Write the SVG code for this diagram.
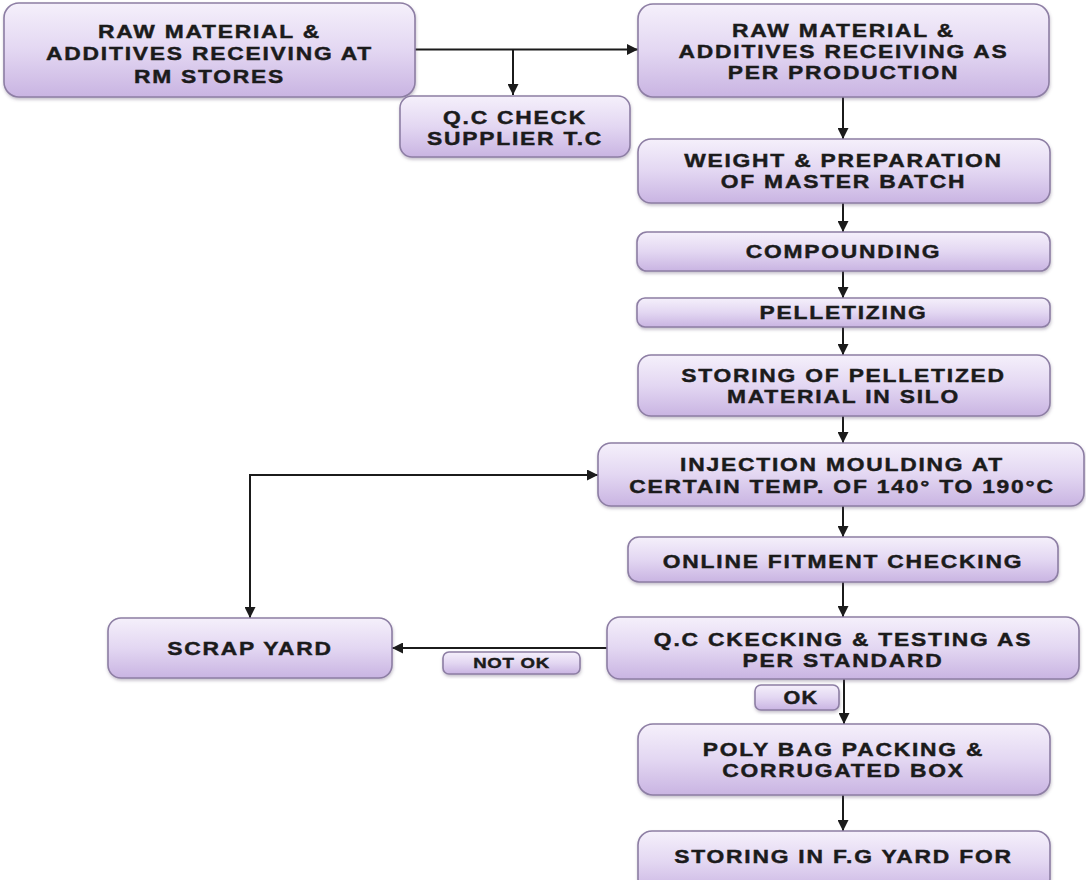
<svg xmlns="http://www.w3.org/2000/svg" width="1086" height="880" viewBox="0 0 1086 880">
  <style>
    .box { fill: url(#boxFill); stroke: #8d7ea4; stroke-width: 1.6; filter: url(#soft); }
    .lbl { font-family: "Liberation Sans", Arial, sans-serif; font-weight: bold; font-size: 19px; letter-spacing: 1.5px; fill: #1b1b1b; stroke: #1b1b1b; stroke-width: 0.45; text-anchor: middle; }
    .small { font-size: 15.5px; letter-spacing: 0.6px; }
    .ok { font-size: 18px; letter-spacing: 1px; }
    .wire { fill: none; stroke: #1b1b1b; stroke-width: 2; marker-end: url(#head); }
  </style>
  <defs>
    <linearGradient id="boxFill" x1="0" y1="0" x2="0" y2="1">
      <stop offset="0" stop-color="#f5f0fb"/>
      <stop offset="0.5" stop-color="#e3d7f2"/>
      <stop offset="1" stop-color="#c9b4e2"/>
    </linearGradient>
    <filter id="soft" x="-5%" y="-10%" width="110%" height="130%">
      <feDropShadow dx="0.5" dy="2" stdDeviation="1.5" flood-color="#5e5070" flood-opacity="0.35"/>
    </filter>
    <marker id="head" viewBox="0 0 10 10" refX="10" refY="5" markerUnits="userSpaceOnUse" markerWidth="12" markerHeight="11" orient="auto">
      <path d="M0,0 L10,5 L0,10 z" fill="#1b1b1b"/>
    </marker>
  </defs>
  <rect width="1086" height="880" fill="#ffffff"/>

  <!-- connectors -->
  <g id="connectors">
    <path class="wire" d="M415,49.5 L638,49.5"/>
    <path class="wire" d="M513,49.5 L513,95"/>
    <path class="wire" d="M843,97 L843,139"/>
    <path class="wire" d="M843,203 L843,232"/>
    <path class="wire" d="M843,271 L843,298"/>
    <path class="wire" d="M843,327 L843,355"/>
    <path class="wire" d="M843,416 L843,443"/>
    <path class="wire" d="M843,506 L843,537"/>
    <path class="wire" d="M843,582 L843,617"/>
    <path class="wire" d="M844,679 L844,724"/>
    <path class="wire" d="M843,795 L843,831"/>
    <path class="wire" d="M607,648 L392,648"/>
    <path class="wire" d="M250,475 L598,475"/>
    <path class="wire" d="M250,474 L250,618"/>
  </g>

  <g id="rm-stores">
    <rect class="box" x="4" y="3" width="411" height="94" rx="15"/>
    <g transform="translate(209.5,0) scale(1.2,1)">
      <text class="lbl" x="0" y="38">RAW MATERIAL &amp;</text>
      <text class="lbl" x="0" y="60.5">ADDITIVES RECEIVING AT</text>
      <text class="lbl" x="0" y="83">RM STORES</text>
    </g>
  </g>

  <g id="rm-production">
    <rect class="box" x="638" y="4" width="411" height="93" rx="15"/>
    <g transform="translate(843.5,0) scale(1.2,1)">
      <text class="lbl" x="0" y="37">RAW MATERIAL &amp;</text>
      <text class="lbl" x="0" y="58">ADDITIVES RECEIVING AS</text>
      <text class="lbl" x="0" y="79">PER PRODUCTION</text>
    </g>
  </g>

  <g id="qc-supplier">
    <rect class="box" x="400" y="96" width="230" height="61" rx="12"/>
    <g transform="translate(515,0) scale(1.2,1)">
      <text class="lbl" x="0" y="124">Q.C CHECK</text>
      <text class="lbl" x="0" y="145">SUPPLIER T.C</text>
    </g>
  </g>

  <g id="master-batch">
    <rect class="box" x="638" y="139" width="412" height="64" rx="13"/>
    <g transform="translate(843.5,0) scale(1.2,1)">
      <text class="lbl" x="0" y="167">WEIGHT &amp; PREPARATION</text>
      <text class="lbl" x="0" y="188">OF MASTER BATCH</text>
    </g>
  </g>

  <g id="compounding">
    <rect class="box" x="637" y="232" width="413" height="39" rx="10"/>
    <g transform="translate(843.5,0) scale(1.2,1)">
      <text class="lbl" x="0" y="258">COMPOUNDING</text>
    </g>
  </g>

  <g id="pelletizing">
    <rect class="box" x="637" y="298" width="413" height="29" rx="8"/>
    <g transform="translate(843.5,0) scale(1.2,1)">
      <text class="lbl" x="0" y="319.5">PELLETIZING</text>
    </g>
  </g>

  <g id="silo">
    <rect class="box" x="638" y="355" width="412" height="61" rx="13"/>
    <g transform="translate(843.5,0) scale(1.2,1)">
      <text class="lbl" x="0" y="382">STORING OF PELLETIZED</text>
      <text class="lbl" x="0" y="403">MATERIAL IN SILO</text>
    </g>
  </g>

  <g id="injection">
    <rect class="box" x="598" y="443" width="486" height="63" rx="13"/>
    <g transform="translate(842,0) scale(1.2,1)">
      <text class="lbl" x="0" y="471">INJECTION MOULDING AT</text>
      <text class="lbl" x="0" y="493">CERTAIN TEMP. OF 140° TO 190°C</text>
    </g>
  </g>

  <g id="fitment">
    <rect class="box" x="628" y="537" width="430" height="45" rx="11"/>
    <g transform="translate(843,0) scale(1.2,1)">
      <text class="lbl" x="0" y="568">ONLINE FITMENT CHECKING</text>
    </g>
  </g>

  <g id="qc-testing">
    <rect class="box" x="607" y="617" width="472" height="62" rx="13"/>
    <g transform="translate(843,0) scale(1.2,1)">
      <text class="lbl" x="0" y="646">Q.C CKECKING &amp; TESTING AS</text>
      <text class="lbl" x="0" y="667">PER STANDARD</text>
    </g>
  </g>

  <g id="ok-label">
    <rect class="box" x="755" y="685" width="84" height="25" rx="6"/>
    <g transform="translate(801,0) scale(1.2,1)">
      <text class="lbl ok" x="0" y="704">OK</text>
    </g>
  </g>

  <g id="not-ok-label">
    <rect class="box" x="443" y="652" width="137" height="22" rx="6"/>
    <g transform="translate(511.5,0) scale(1.2,1)">
      <text class="lbl small" x="0" y="668.5">NOT OK</text>
    </g>
  </g>

  <g id="scrap-yard">
    <rect class="box" x="108" y="618" width="284" height="60" rx="13"/>
    <g transform="translate(250,0) scale(1.2,1)">
      <text class="lbl" x="0" y="655">SCRAP YARD</text>
    </g>
  </g>

  <g id="packing">
    <rect class="box" x="638" y="724" width="412" height="71" rx="15"/>
    <g transform="translate(843.5,0) scale(1.2,1)">
      <text class="lbl" x="0" y="756">POLY BAG PACKING &amp;</text>
      <text class="lbl" x="0" y="777">CORRUGATED BOX</text>
    </g>
  </g>

  <g id="fg-yard">
    <rect class="box" x="638" y="831" width="412" height="62" rx="14"/>
    <g transform="translate(843.5,0) scale(1.2,1)">
      <text class="lbl" x="0" y="863">STORING IN F.G YARD FOR</text>
    </g>
  </g>
</svg>
